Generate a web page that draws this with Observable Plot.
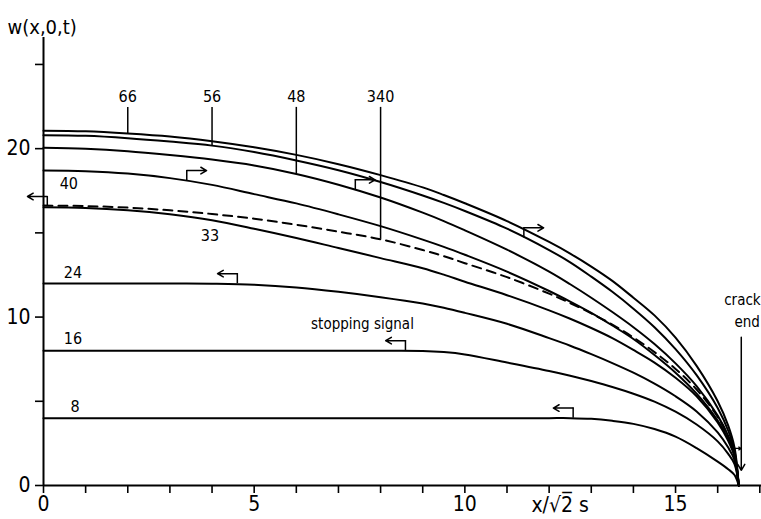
<!DOCTYPE html>
<html><head><meta charset="utf-8">
<script src="https://cdn.jsdelivr.net/npm/d3@7"></script>
<script src="https://cdn.jsdelivr.net/npm/@observablehq/plot@0.6"></script>
<style>body{margin:0;background:#fff}</style>
</head><body><div id="chart"></div>
<script>
// x / sqrt(2) s positions along the crack
const xGrid = [0,1,2,3,4,5,6,7,8,9,9.5,10,11,12,12.5,13,13.5,14,14.5,15,15.5,16,16.25,16.4,16.5];
// crack opening w(x,0,t) for each time t
const w66 = [21.07,21.03,20.9,20.72,20.44,20.08,19.63,19.08,18.43,17.7,17.25,16.76,15.7,14.46,13.77,13.0,12.15,11.15,10.1,8.78,7.1,5.0,3.55,2.25,0];
const w56 = [20.8,20.76,20.62,20.42,20.18,19.8,19.3,18.72,18.02,17.22,16.78,16.3,15.25,13.98,13.25,12.4,11.5,10.5,9.4,8.1,6.55,4.6,3.25,2.05,0];
const w48 = [20.06,20.0,19.85,19.62,19.35,19.0,18.5,17.86,17.1,16.2,15.7,15.15,14.0,12.7,11.95,11.15,10.3,9.4,8.4,7.25,5.9,4.15,2.95,1.9,0];
const w40 = [18.7,18.66,18.52,18.25,17.85,17.3,16.75,16.1,15.4,14.6,14.17,13.7,12.7,11.55,10.92,10.25,9.5,8.7,7.75,6.7,5.45,3.85,2.75,1.78,0];
const w340 = [16.62,16.59,16.5,16.34,16.12,15.84,15.48,15.07,14.62,13.98,13.62,13.2,12.37,11.39,10.83,10.22,9.55,8.79,7.92,6.92,5.7,4.07,2.9,1.83,0];
const w33 = [16.52,16.48,16.34,16.1,15.75,15.25,14.7,14.1,13.5,12.9,12.52,12.1,11.3,10.4,9.9,9.35,8.75,8.05,7.3,6.4,5.3,3.75,2.65,1.72,0];
const w24 = [12.0,12.0,12.0,12.0,11.98,11.92,11.76,11.5,11.18,10.8,10.55,10.25,9.6,8.75,8.3,7.8,7.27,6.7,6.05,5.3,4.4,3.15,2.25,1.5,0];
const w16 = [8.0,8.0,8.0,8.0,8.0,8.0,8.0,8.0,8.0,7.99,7.92,7.78,7.3,6.8,6.52,6.2,5.85,5.45,4.98,4.38,3.62,2.62,1.88,1.27,0];
const w8  = [4.0,4.0,4.0,4.0,4.0,4.0,4.0,4.0,4.0,4.0,4.0,4.0,4.0,4.0,4.0,3.96,3.84,3.66,3.35,2.9,2.22,1.42,0.97,0.62,0];

const solidSeries = [["66",w66],["56",w56],["48",w48],["40",w40],["33",w33],["24",w24],["16",w16],["8",w8]];
const dashedSeries = [["340",w340]];

// labels with leader lines from the top
const topLabels = ["66","56","48","340"];
const topLabelX = [2,4,6,8];
// labels next to curves
const sideLabels = ["40","33","24","16","8"];
const sideLabelX = [0.6,3.95,0.7,0.7,0.75];
const sideLabelW = [17.92,14.84,12.64,8.72,4.65];
// signal fronts (arrows)
const rightSignalX = [3.4,7.4,11.4];
const rightSignalW = [18.1,17.55,14.7];
const leftSignalX = [0.09,4.6,8.59,12.57];
const leftSignalW = [16.56,11.98,8.0,4.0];
const crackEnd = 16.56;

const allSeries = Object.fromEntries([...solidSeries, ...dashedSeries]);
const toRows = list => list.flatMap(([name, vals]) => vals.map((w, i) => ({name, x: xGrid[i], w})));
const solidRows = toRows(solidSeries);
const dashedRows = toRows(dashedSeries);
const topRows = topLabels.map((t, i) => ({t, x: topLabelX[i], w: allSeries[t][xGrid.indexOf(topLabelX[i])]}));
const sideRows = sideLabels.map((t, i) => ({t, x: sideLabelX[i], w: sideLabelW[i]}));
const rightRows = rightSignalX.map((x, i) => ({x, w: rightSignalW[i], dir: 1}));
const leftRows = leftSignalX.map((x, i) => ({x, w: leftSignalW[i], dir: -1}));
const signals = [...rightRows, ...leftRows];

const stemH = 0.6, arrLen = 0.47;
const font = "'DejaVu Sans Condensed','Liberation Sans Narrow','DejaVu Sans',sans-serif";

const chart = Plot.plot({
  width: 761, height: 519,
  marginLeft: 43, marginRight: 0, marginTop: 37, marginBottom: 34,
  x: {domain: [0, 17.04]},
  y: {domain: [0, 26.6]},
  style: {fontFamily: font, fontSize: "21px", background: "white", color: "black", overflow: "visible"},
  marks: [
    Plot.axisX({ticks: d3.range(0, 18), tickSize: 8, tickPadding: 3, strokeWidth: 1.6,
      tickFormat: d => d % 5 === 0 ? String(d) : "", label: null}),
    Plot.axisY({ticks: [0,5,10,15,20,25], tickSize: 8, tickPadding: 5, strokeWidth: 1.6,
      tickFormat: d => d % 10 === 0 ? String(d) : "", label: null}),
    Plot.ruleX([0], {strokeWidth: 2}),
    Plot.ruleY([0], {strokeWidth: 2}),
    Plot.line(solidRows, {x: "x", y: "w", z: "name", curve: "catmull-rom", stroke: "black", strokeWidth: 2}),
    Plot.line(dashedRows, {x: "x", y: "w", z: "name", curve: "catmull-rom", stroke: "black", strokeWidth: 2, strokeDasharray: "9,6"}),
    // leader lines and top labels
    Plot.ruleX(topRows, {x: "x", y1: "w", y2: 22.45, strokeWidth: 1.5}),
    Plot.text(topRows, {x: "x", y: 23.05, text: "t", fontSize: 16}),
    Plot.text(sideRows, {x: "x", y: "w", text: "t", fontSize: 16}),
    // signal arrows
    Plot.ruleX(signals, {x: "x", y1: "w", y2: d => d.w + stemH, strokeWidth: 1.5}),
    Plot.arrow(signals, {x1: "x", y1: d => d.w + stemH, x2: d => d.x + d.dir * arrLen, y2: d => d.w + stemH,
      headLength: 7, strokeWidth: 1.5, stroke: "black"}),
    Plot.text(["stopping signal"], {x: 7.57, y: 9.55, text: d => d, fontSize: 15}),
    // crack end
    Plot.text(["crack"], {x: 17.02, y: 10.98, textAnchor: "end", text: d => d, fontSize: 15}),
    Plot.text(["end"], {x: 16.7, y: 9.67, text: d => d, fontSize: 15}),
    Plot.arrow([0], {x1: crackEnd, y1: 8.8, x2: crackEnd, y2: 0.9, headLength: 7, strokeWidth: 1.5, stroke: "black"}),
    Plot.arrow([0], {x1: crackEnd - 0.2, y1: 2.2, x2: crackEnd, y2: 2.2, headLength: 5, strokeWidth: 1.3, stroke: "black"}),
    // axis titles
    Plot.text(["w(x,0,t)"], {frameAnchor: "top-left", dx: -36, dy: -18, textAnchor: "start", text: d => d, fontSize: 20}),
    Plot.text(["x/\u221A2\u0305 s"], {x: 11.58, y: 0, dy: 20, textAnchor: "start", text: d => d, fontSize: 21})
  ]
});
document.getElementById("chart").appendChild(chart);
</script>
</body></html>
